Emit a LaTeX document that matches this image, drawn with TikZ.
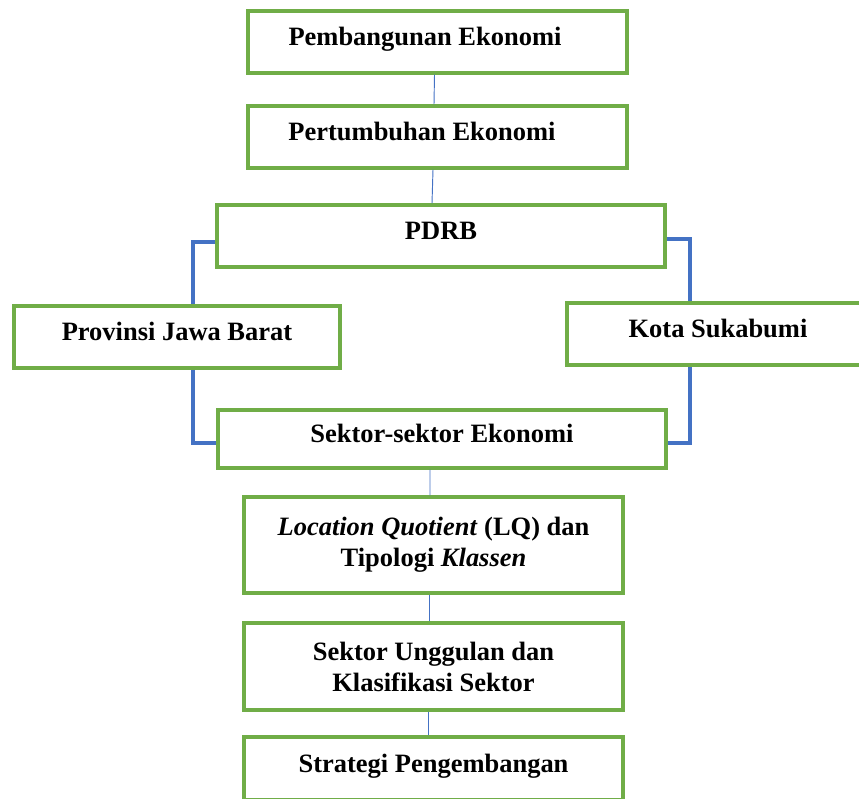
\documentclass[tikz,border=0pt]{standalone}
\usepackage{fontspec}
\setmainfont{Liberation Serif}
\usepackage{tikz}
\usetikzlibrary{positioning, calc}
\definecolor{kotakhijau}{HTML}{70AD47}
\definecolor{garisbiru}{HTML}{4472C4}

\begin{document}
\begin{tikzpicture}[
        x=0.03cm, y=-0.03cm,
        box/.style={rectangle, draw=kotakhijau, line width=2.6pt, fill=white, align=center, font=\bfseries\fontsize{22.6}{26.5}\selectfont},
        onerow/.style={box, text height=0.8em, text depth=0.12em},
        thinlink/.style={draw=garisbiru, line width=0.8pt},
        thicklink/.style={draw=garisbiru, line width=3.4pt}
    ]
        \useasboundingbox (0,0) rectangle (859,798);
        % Kotak-kotak utama (posisi dalam piksel gambar)
        \node [onerow, minimum width=11.37cm, minimum height=1.86cm] (pemb) at (437.5, 42) {Pembangunan Ekonomi\hspace*{0.75cm}};
        \node [onerow, minimum width=11.37cm, minimum height=1.86cm] (pert) at (437.5, 137) {Pertumbuhan Ekonomi\hspace*{0.93cm}};
        \node [onerow, minimum width=13.44cm, minimum height=1.86cm] (pdrb) at (441, 236) {PDRB};
        \node [onerow, minimum width=9.78cm, minimum height=1.86cm] (prov) at (177, 337) {Provinsi Jawa Barat};
        \node [onerow, minimum width=9.06cm, minimum height=1.86cm] (kota) at (718, 334) {Kota Sukabumi};
        \node [onerow, minimum width=13.44cm, minimum height=1.74cm] (sektor) at (442, 439) {Sektor-sektor Ekonomi};
        \node [box, minimum width=11.37cm, minimum height=2.88cm] (lq) at (433.5, 545) {\textit{Location Quotient} (LQ) dan\\Tipologi \textit{Klassen}};
        \node [box, minimum width=11.37cm, minimum height=2.61cm] (unggul) at (433.5, 666.5) {Sektor Unggulan dan\\Klasifikasi Sektor};
        \node [onerow, minimum width=11.37cm, minimum height=1.89cm] (strategi) at (433.5, 768.5) {Strategi Pengembangan};

        % Garis tipis penghubung vertikal
        \draw [thinlink] ([xshift=-0.9mm]pemb.south) -- ([xshift=-1.05mm]pert.north);
        \draw [thinlink] ([xshift=-1.35mm]pert.south) -- ([xshift=-2.7mm]pdrb.north);
        \draw [thinlink] ([xshift=-3.6mm]sektor.south) -- ([xshift=-1.05mm]lq.north);
        \draw [thinlink] ([xshift=-1.35mm]lq.south) -- ([xshift=-1.35mm]unggul.north);
        \draw [thinlink] ([xshift=-1.65mm]unggul.south) -- ([xshift=-1.65mm]strategi.north);

        % Garis tebal ke Provinsi dan Kota
        \coordinate (kiri) at (193, 0);
        \coordinate (kanan) at (690, 0);
        \draw [thicklink] ([yshift=-1.8mm]pdrb.west) -| (kiri |- prov.north);
        \draw [thicklink] (kiri |- prov.south) |- ([yshift=-1.2mm]sektor.west);
        \draw [thicklink] ([yshift=-0.9mm]pdrb.east) -| (kanan |- kota.north);
        \draw [thicklink] (kanan |- kota.south) |- ([yshift=-1.2mm]sektor.east);
    \end{tikzpicture}
\end{document}
